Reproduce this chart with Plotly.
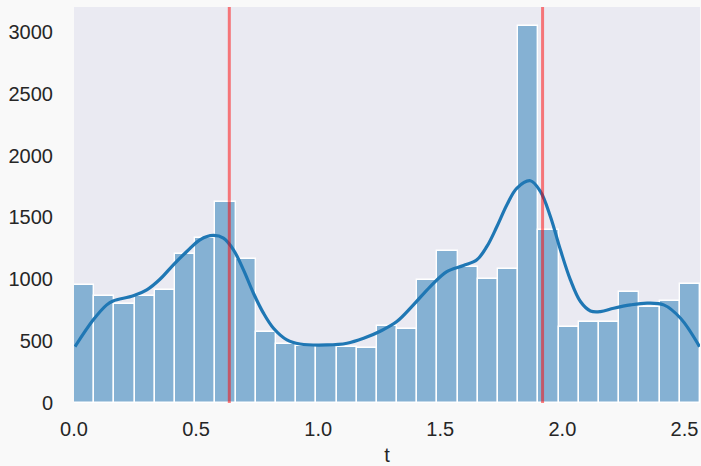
import plotly.graph_objects as go

# Histogram counts (31 bins, from t = 0)
bin_start = 0.0
bin_width = 0.0827
counts = [955, 866, 803, 868, 914, 1205, 1335, 1626, 1165, 574, 480, 461, 463, 453, 442, 623,
          596, 995, 1232, 1103, 1000, 1081, 3045, 1400, 617, 658, 658, 896, 774, 825, 965]

# KDE curve
kde_t = [0.004, 0.079, 0.134, 0.16, 0.243, 0.298, 0.352, 0.407, 0.462, 0.516, 0.571, 0.612,
         0.653, 0.694, 0.735, 0.776, 0.817, 0.872, 0.926, 1.036, 1.118, 1.186, 1.254, 1.322,
         1.39, 1.459, 1.527, 1.595, 1.65, 1.691, 1.732, 1.773, 1.814, 1.869, 1.91, 1.951,
         1.992, 2.033, 2.074, 2.115, 2.156, 2.21, 2.279, 2.347, 2.415, 2.484, 2.562]
kde_y = [455, 672, 793, 825, 866, 914, 1000, 1117, 1224, 1319, 1354, 1332,
         1238, 1076, 887, 726, 604, 510, 477, 469, 483, 523, 580, 658,
         793, 941, 1062, 1111, 1157, 1265, 1426, 1602, 1737, 1796, 1710, 1507,
         1238, 995, 820, 744, 739, 766, 793, 807, 793, 685, 455]

# Vertical reference lines
vlines = [0.636, 1.919]

x_ticks = [0.0, 0.5, 1.0, 1.5, 2.0, 2.5]
y_ticks = [0, 500, 1000, 1500, 2000, 2500, 3000]

centers = [bin_start + bin_width * (i + 0.5) for i in range(len(counts))]
x_max = bin_start + bin_width * len(counts)

fig = go.Figure()
fig.add_trace(go.Bar(
    x=centers, y=counts, width=bin_width,
    marker=dict(color="rgba(31,119,180,0.5)", line=dict(color="white", width=1.4)),
    hoverinfo="x+y", showlegend=False,
))
fig.add_trace(go.Scatter(
    x=kde_t, y=kde_y, mode="lines",
    line=dict(color="#1f77b4", width=3.2, shape="spline", smoothing=1.0),
    showlegend=False,
))
for v in vlines:
    fig.add_trace(go.Scatter(
        x=[v, v], y=[0, 3200], mode="lines",
        line=dict(color="rgba(255,0,0,0.5)", width=3),
        showlegend=False,
    ))

font_family = "Liberation Sans, Arial, sans-serif"
fig.update_layout(
    width=701, height=466,
    margin=dict(l=74, r=1, t=7, b=63),
    paper_bgcolor="#F9F9F9",
    plot_bgcolor="#EAEAF2",
    font=dict(family=font_family, size=20, color="#262626"),
    bargap=0,
    xaxis=dict(
        range=[0, x_max], tickvals=x_ticks, tickformat=".1f",
        showgrid=False, zeroline=False, showline=False, automargin=False,
        ticks="outside", ticklen=8, tickcolor="rgba(0,0,0,0)",
        title=dict(text="t", standoff=10, font=dict(size=20)),
    ),
    yaxis=dict(
        range=[0, 3200], tickvals=y_ticks,
        showgrid=False, zeroline=False, showline=False, automargin=False,
        ticks="outside", ticklen=16, tickcolor="rgba(0,0,0,0)",
    ),
)

fig.write_html(
    "out.html",
    config={"displayModeBar": False},
    post_script="document.body.style.margin='0';document.body.style.overflow='hidden';",
)
